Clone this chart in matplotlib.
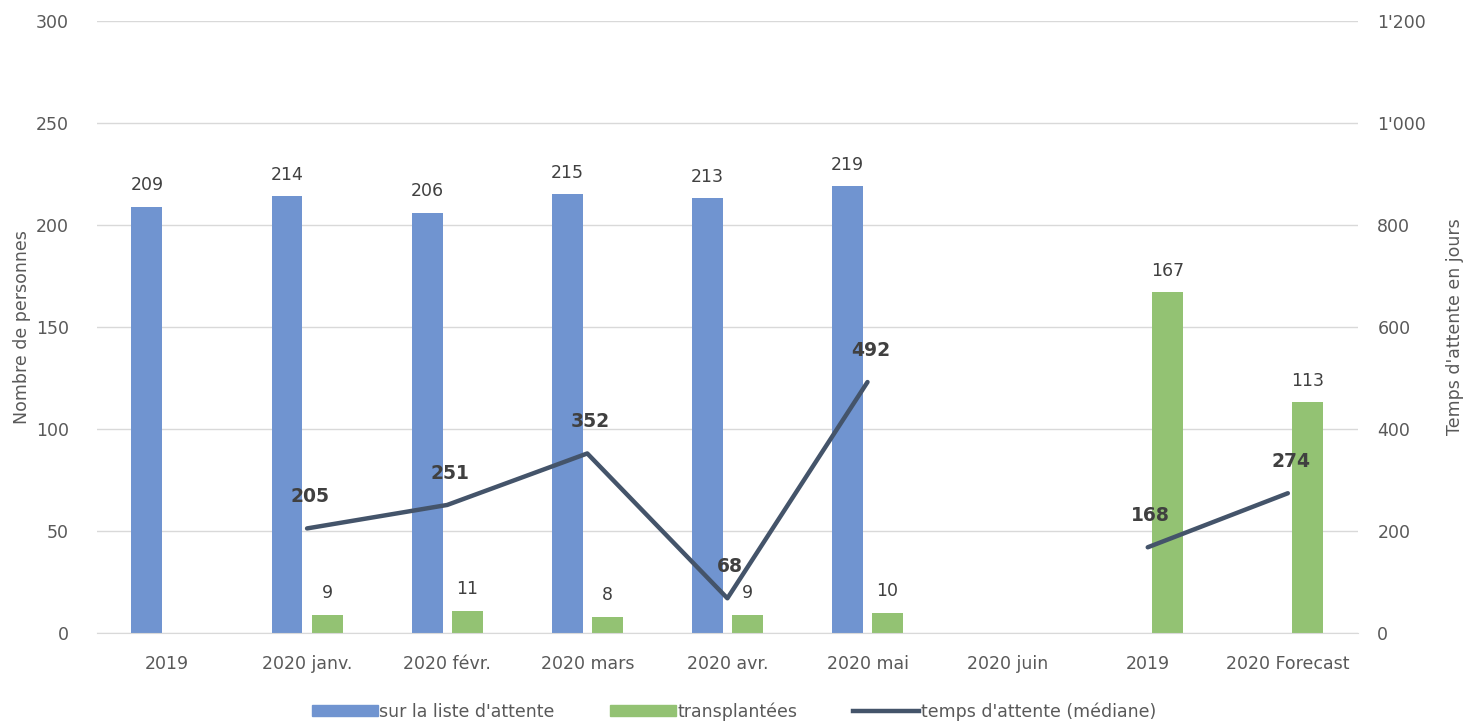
import numpy as np
import matplotlib.pyplot as plt
from matplotlib.ticker import FuncFormatter
from matplotlib.lines import Line2D
from matplotlib.patches import Patch

# categories and series (None = no value)
categories = ["2019", "2020 janv.", "2020 févr.", "2020 mars", "2020 avr.",
              "2020 mai", "2020 juin", "2019", "2020 Forecast"]
waiting_list = [209, 214, 206, 215, 213, 219, None, None, None]
transplanted = [None, 9, 11, 8, 9, 10, None, 167, 113]
median_wait = [None, 205, 251, 352, 68, 492, None, 168, 274]

blue = "#7094d0"
green = "#93c273"
dark = "#44546a"
grey_text = "#595959"

plt.rcParams['font.family'] = ['DejaVu Sans']

fig = plt.figure(figsize=(14.68, 7.22), dpi=100)
ax = fig.add_axes([0.066, 0.1233, 0.859, 0.8477])
ax2 = ax.twinx()

x = np.arange(len(categories))
w = 0.22
off = 0.143

for xi, v in zip(x, waiting_list):
    if v is None:
        continue
    ax.bar(xi - off, v, width=w, color=blue, zorder=2)
    ax.text(xi - off, v + 6, str(v), ha="center", va="bottom",
            fontsize=12.5, color="#404040")

for xi, v in zip(x, transplanted):
    if v is None:
        continue
    ax.bar(xi + off, v, width=w, color=green, zorder=2)
    ax.text(xi + off, v + 6, str(v), ha="center", va="bottom",
            fontsize=12.5, color="#404040")

# line with gaps where there is no value
y_line = np.array([np.nan if v is None else v for v in median_wait], dtype=float)
ax2.plot(x, y_line, color=dark, lw=3.2, solid_capstyle="round", zorder=3)
for xi, v in zip(x, median_wait):
    if v is None:
        continue
    ax2.text(xi + 0.02, v + 44, str(v), ha="center", va="bottom",
             fontsize=13.5, fontweight="bold", color="#404040")

ax.set_xlim(-0.5, len(categories) - 0.5)
ax.set_ylim(0, 300)
ax.set_yticks(np.arange(0, 301, 50))
ax2.set_ylim(0, 1200)
ax2.set_yticks(np.arange(0, 1201, 200))
ax2.yaxis.set_major_formatter(FuncFormatter(lambda v, p: "{:,}".format(int(v)).replace(",", "'")))

ax.set_xticks(x)
ax.set_xticklabels(categories)

ax.grid(axis="y", color="#d9d9d9", lw=1, zorder=0)
ax.set_axisbelow(True)
for a in (ax, ax2):
    for s in a.spines.values():
        s.set_visible(False)
    a.tick_params(length=0, labelsize=12.5, colors=grey_text)
ax.spines["bottom"].set_visible(True)
ax.spines["bottom"].set_color("#d9d9d9")
ax.tick_params(axis="x", pad=16)
ax.tick_params(axis="y", pad=20)
ax2.tick_params(axis="y", pad=14)

ax.set_ylabel("Nombre de personnes", fontsize=12.5, color=grey_text)
ax.yaxis.set_label_coords(-0.052, 0.5)
ax2.set_ylabel("Temps d'attente en jours", fontsize=12.5, color=grey_text)
ax2.yaxis.set_label_coords(1.0695, 0.5)

handles = [Patch(color=blue), Patch(color=green), Line2D([0], [0], color=dark, lw=3.2)]
labels = ["sur la liste d'attente", "transplantées", "temps d'attente (médiane)"]
fig.legend(handles, labels, loc="lower center", bbox_to_anchor=(0.5, -0.02), ncol=3,
           frameon=False, fontsize=12.5, handlelength=3.8, handleheight=0.6,
           handletextpad=0.1, columnspacing=3.2, labelcolor=grey_text)

fig.savefig("out.png", dpi=100)
